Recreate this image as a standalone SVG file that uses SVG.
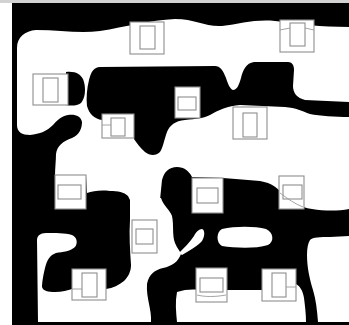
<svg xmlns="http://www.w3.org/2000/svg" width="349" height="325" viewBox="0 0 349 325">
<style>
.w{fill:#fff}
.k{fill:#000}
.box{fill:#fff;stroke:#8e8e8e;stroke-width:1.1}
.ln{fill:none;stroke:#9a9a9a;stroke-width:0.9}
</style>
<rect x="0" y="0" width="349" height="325" fill="#fff"/>
<rect x="0" y="0" width="349" height="3" fill="#d2d2d2"/>
<rect x="12" y="3" width="337" height="322" fill="#000"/>
<g id="white-areas">
<path class="w" d="M17,48 C17,37 25,31 36,30 C60,30 80,34 100,31 C125,27 150,20 175,19 C195,19 205,27 222,26 C240,24 255,19 275,21 C300,24 320,27 349,27 L349,209 C338,211 325,211 312,209 C300,207 290,203 284,196 C278,188 272,183 260,181 C248,180 236,179 223,178 L192,177 C189,171 184,167 177,167 C169,167 164,172 162,180 L160,200 L130,200 L128,196 C124,192 118,191 110,191 C100,190 93,191 87,193 L86,176 L55,176 C55,168 56,160 56,154 C57,146 63,141 72,138 C79,135 82,129 82,122 C81,116 75,114 68,115 C62,116 57,120 53,125 C47,131 40,134 30,135 C22,135 17,132 17,125 Z"/>
<path class="w" d="M130,198 L161,198 C163,205 170,210 172,216 C174,225 172,235 175,243 C177,248 180,251 181,254 C178,262 172,266 163,268 C155,270 149,274 147,284 C146,298 152,310 151,322 L38,322 L37,240 C37,236 40,233 46,233 C55,233 65,233 72,235 C77,237 78,243 75,247 C71,251 63,252 56,253 C50,255 47,260 45,268 C43,276 42,283 42,287 C43,291 48,292 55,292 C62,292 68,290 72,289 L106,289 C113,288 119,285 124,281 C128,277 131,272 131,265 C130,250 129,235 130,220 Z"/>
<path class="w" d="M222,229 C235,226 255,226 266,229 C273,232 275,241 268,245 C255,249 235,248 222,246 C216,243 216,232 222,229 Z"/>
<path class="w" d="M179,253 C184,248 190,242 194,236 C196,232 199,229 202,229 C205,230 205,236 202,241 C198,246 190,250 182,255 Z"/>
<path class="w" d="M177,292 C185,289 195,289 200,290 L262,290 L262,284 L296,284 C300,286 303,291 304,298 C305,306 306,314 306,322 L177,322 C176,312 175,302 177,292 Z"/>
<path class="w" d="M310,240 C313,237 320,237 330,237 L349,236 L349,322 L318,322 C317,310 316,300 313,290 C310,280 307,268 307,255 C307,248 308,243 310,240 Z"/>
</g>
<g id="black-areas">
<path class="k" d="M102,120 C95,119 89,114 87,106 C86,98 87,88 89,80 C91,72 94,67 100,67 L215,66 C220,66 223,70 226,78 C228,84 230,89 233,90 C237,90 239,85 241,78 C243,70 246,63 254,62 L288,62 C292,62 294,65 294,70 L293,86 C293,93 297,98 305,100 L349,102 L349,117 C335,117 320,116 310,114 C302,111 296,108 285,107 L240,105 C228,106 218,110 210,115 C204,118 196,119 185,120 C175,121 170,125 167,132 C164,140 163,148 160,152 C156,156 150,156 145,152 C140,148 137,143 134,139 L134,114 L102,114 Z"/>
<path class="k" d="M66,72 C75,71 82,74 84,82 C86,90 85,98 81,103 C77,106 71,106 66,105 Z"/>
</g>
<g id="box1"><rect class="box" x="130" y="22" width="34" height="32"/><rect class="box" x="140" y="26" width="15" height="23"/></g>
<g id="box2"><rect class="box" x="280" y="20" width="34" height="32"/><rect class="box" x="290" y="23" width="15" height="23"/><path class="ln" d="M280,30 L290,28 M305,28 L314,30"/></g>
<g id="box3"><rect class="box" x="33" y="74" width="35" height="31"/><rect class="box" x="43" y="78" width="15" height="24"/></g>
<g id="box4"><rect class="box" x="102" y="114" width="32" height="24"/><rect class="box" x="111" y="118" width="14" height="18"/><path class="ln" d="M102,125 L111,125"/></g>
<g id="box5"><rect class="box" x="175" y="87" width="25" height="31"/><rect class="box" x="178" y="97" width="18" height="13"/></g>
<g id="box6"><rect class="box" x="233" y="107" width="34" height="32"/><rect class="box" x="243" y="113" width="14" height="24"/></g>
<g id="box7"><rect class="box" x="55" y="175" width="31" height="34"/><rect class="box" x="58" y="185" width="23" height="14"/></g>
<g id="box8"><rect class="box" x="132" y="220" width="25" height="33"/><rect class="box" x="136" y="229" width="17" height="15"/></g>
<g id="box9"><rect class="box" x="72" y="269" width="34" height="31"/><rect class="box" x="82" y="273" width="15" height="24"/><path class="ln" d="M72,289 L82,289"/></g>
<g id="box10"><rect class="box" x="192" y="178" width="31" height="35"/><rect class="box" x="197" y="188" width="21" height="15"/></g>
<g id="box11"><rect class="box" x="279" y="176" width="25" height="33"/><rect class="box" x="283" y="185" width="19" height="14"/><path class="ln" d="M280,193 C288,199 295,204 303,207"/></g>
<g id="box12"><rect class="box" x="196" y="268" width="31" height="34"/><rect class="box" x="200" y="278" width="23" height="14"/><path class="ln" d="M197,295 C205,297 215,297 226,295"/></g>
<g id="box13"><rect class="box" x="262" y="269" width="34" height="32"/><rect class="box" x="272" y="273" width="14" height="24"/><path class="ln" d="M286,287 L296,287"/></g>
</svg>
